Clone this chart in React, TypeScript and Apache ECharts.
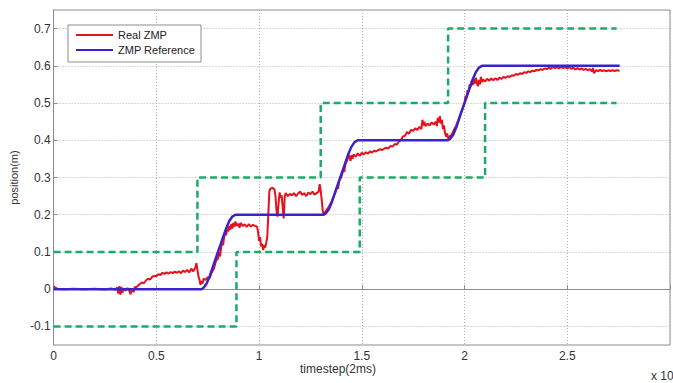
import React, { useEffect, useRef } from "react";
import * as echarts from "echarts";

const xTicks = [0, 0.5, 1, 1.5, 2, 2.5, 3];
const yTicks = [-0.1, 0, 0.1, 0.2, 0.3, 0.4, 0.5, 0.6, 0.7];

const upperBound: number[][] = [
  [0, 0.1], [0.7, 0.1], [0.7, 0.3], [1.3, 0.3], [1.3, 0.5], [1.92, 0.5], [1.92, 0.7], [2.74, 0.7],
];
const lowerBound: number[][] = [
  [0, -0.1], [0.89, -0.1], [0.89, 0.1], [1.49, 0.1], [1.49, 0.3], [2.1, 0.3], [2.1, 0.5], [2.74, 0.5],
];

const zmpReference: number[][] = [
  [0, 0], [0.72, 0], [0.73, 0.004], [0.745, 0.015], [0.76, 0.035], [0.78, 0.068], [0.8, 0.1],
  [0.82, 0.132], [0.84, 0.163], [0.855, 0.183], [0.87, 0.195], [0.885, 0.2],
  [1.315, 0.2], [1.325, 0.204], [1.34, 0.215], [1.355, 0.235], [1.375, 0.268], [1.395, 0.3],
  [1.415, 0.332], [1.435, 0.364], [1.45, 0.383], [1.465, 0.395], [1.48, 0.4],
  [1.92, 0.4], [1.93, 0.404], [1.945, 0.415], [1.96, 0.435], [1.98, 0.468], [2.0, 0.5],
  [2.02, 0.532], [2.04, 0.564], [2.055, 0.583], [2.07, 0.595], [2.085, 0.6], [2.755, 0.6],
];

const realZmp: number[][] = [
  [0, 0.008], [0.01, 0.003], [0.02, 0.001], [0.05, 0], [0.1, 0.001], [0.15, 0], [0.2, 0.001],
  [0.25, -0.001], [0.28, 0.002], [0.3, -0.002],
  [0.31, 0.005], [0.315, -0.012], [0.32, 0.008], [0.325, -0.015], [0.33, 0.006], [0.335, -0.01],
  [0.34, 0.002], [0.35, -0.004], [0.36, 0.003], [0.37, -0.006], [0.375, -0.014], [0.38, 0.002],
  [0.39, -0.008], [0.395, 0.006],
  [0.4, 0.004], [0.41, 0.009], [0.42, 0.014], [0.43, 0.018], [0.44, 0.016], [0.45, 0.024],
  [0.46, 0.028], [0.47, 0.026], [0.48, 0.033], [0.49, 0.036], [0.5, 0.035], [0.51, 0.04],
  [0.52, 0.038], [0.53, 0.044], [0.54, 0.041], [0.55, 0.045], [0.56, 0.042], [0.57, 0.046],
  [0.58, 0.043], [0.59, 0.047], [0.6, 0.044], [0.61, 0.048], [0.62, 0.043], [0.63, 0.05],
  [0.64, 0.046], [0.65, 0.052], [0.66, 0.045], [0.67, 0.055], [0.68, 0.048], [0.69, 0.058],
  [0.695, 0.07], [0.7, 0.052], [0.705, 0.035], [0.71, 0.025], [0.715, 0.012], [0.72, 0.022],
  [0.725, 0.015], [0.73, 0.028], [0.74, 0.025], [0.75, 0.032], [0.76, 0.03],
  [0.77, 0.045], [0.78, 0.055], [0.79, 0.075], [0.8, 0.082], [0.805, 0.1], [0.81, 0.088],
  [0.815, 0.11], [0.82, 0.125], [0.825, 0.118], [0.83, 0.14], [0.835, 0.15], [0.84, 0.145],
  [0.845, 0.162], [0.85, 0.155], [0.855, 0.17], [0.86, 0.16], [0.865, 0.175], [0.87, 0.163],
  [0.875, 0.178], [0.88, 0.168], [0.885, 0.182], [0.89, 0.17], [0.9, 0.176], [0.905, 0.165],
  [0.91, 0.178], [0.92, 0.17], [0.93, 0.174], [0.94, 0.167], [0.95, 0.175], [0.96, 0.168],
  [0.97, 0.173], [0.98, 0.17], [0.99, 0.168], [0.995, 0.155], [1.0, 0.13], [1.005, 0.14],
  [1.01, 0.115], [1.015, 0.122], [1.02, 0.105], [1.025, 0.118], [1.03, 0.112], [1.035, 0.125],
  [1.04, 0.14], [1.045, 0.2], [1.05, 0.262], [1.055, 0.27], [1.065, 0.272], [1.075, 0.268],
  [1.08, 0.25], [1.085, 0.21], [1.09, 0.195], [1.095, 0.23], [1.1, 0.26], [1.105, 0.245],
  [1.11, 0.252], [1.115, 0.22], [1.12, 0.19], [1.125, 0.25], [1.13, 0.258], [1.14, 0.25],
  [1.15, 0.256], [1.16, 0.252], [1.17, 0.258], [1.18, 0.25], [1.19, 0.257], [1.2, 0.262],
  [1.21, 0.253], [1.22, 0.258], [1.23, 0.25], [1.24, 0.26], [1.25, 0.255], [1.26, 0.262],
  [1.27, 0.254], [1.28, 0.258], [1.29, 0.262], [1.295, 0.282], [1.3, 0.265], [1.305, 0.24],
  [1.31, 0.21], [1.315, 0.2], [1.32, 0.205], [1.33, 0.214], [1.34, 0.222], [1.35, 0.232],
  [1.36, 0.245], [1.37, 0.258], [1.38, 0.275], [1.385, 0.27], [1.39, 0.292], [1.4, 0.3],
  [1.41, 0.32], [1.415, 0.315], [1.42, 0.335], [1.43, 0.348], [1.435, 0.362], [1.44, 0.355],
  [1.445, 0.345], [1.45, 0.36], [1.455, 0.35], [1.46, 0.362], [1.47, 0.356], [1.48, 0.365],
  [1.49, 0.358], [1.5, 0.366], [1.51, 0.362], [1.52, 0.368], [1.53, 0.364], [1.54, 0.37],
  [1.55, 0.367], [1.56, 0.372], [1.57, 0.37], [1.58, 0.374], [1.59, 0.376], [1.6, 0.374],
  [1.61, 0.378], [1.62, 0.38], [1.63, 0.378], [1.64, 0.385], [1.65, 0.383], [1.66, 0.39],
  [1.67, 0.388], [1.68, 0.396], [1.69, 0.4], [1.7, 0.41], [1.71, 0.412], [1.72, 0.422],
  [1.73, 0.418], [1.74, 0.428], [1.75, 0.425], [1.76, 0.432], [1.77, 0.428], [1.78, 0.436],
  [1.79, 0.43], [1.795, 0.455], [1.8, 0.44], [1.805, 0.45], [1.81, 0.438], [1.82, 0.445],
  [1.83, 0.44], [1.84, 0.448], [1.85, 0.442], [1.86, 0.45], [1.865, 0.438], [1.87, 0.46],
  [1.875, 0.448], [1.88, 0.465], [1.885, 0.445], [1.89, 0.455], [1.895, 0.43], [1.9, 0.44],
  [1.905, 0.42], [1.91, 0.41], [1.915, 0.418], [1.92, 0.405], [1.925, 0.412], [1.93, 0.408],
  [1.94, 0.418], [1.95, 0.43], [1.96, 0.44], [1.97, 0.455], [1.98, 0.47], [1.99, 0.485],
  [2.0, 0.5], [2.005, 0.52], [2.01, 0.515], [2.015, 0.535], [2.02, 0.53], [2.025, 0.55],
  [2.03, 0.545], [2.035, 0.56], [2.04, 0.548], [2.045, 0.565], [2.05, 0.552], [2.055, 0.568],
  [2.06, 0.555], [2.065, 0.545], [2.07, 0.562], [2.075, 0.55], [2.08, 0.57], [2.085, 0.556],
  [2.09, 0.563], [2.1, 0.558], [2.11, 0.565], [2.12, 0.56], [2.13, 0.566], [2.14, 0.561],
  [2.15, 0.567], [2.16, 0.562], [2.17, 0.568], [2.18, 0.565], [2.19, 0.57], [2.2, 0.568],
  [2.21, 0.572], [2.22, 0.57], [2.23, 0.575], [2.24, 0.573], [2.25, 0.578], [2.26, 0.576],
  [2.27, 0.58], [2.28, 0.578], [2.29, 0.583], [2.3, 0.581], [2.31, 0.585], [2.32, 0.583],
  [2.33, 0.587], [2.34, 0.585], [2.35, 0.589], [2.36, 0.588], [2.37, 0.591], [2.38, 0.589],
  [2.39, 0.593], [2.4, 0.591], [2.41, 0.595], [2.42, 0.592], [2.43, 0.597], [2.44, 0.594],
  [2.45, 0.596], [2.46, 0.593], [2.47, 0.597], [2.48, 0.594], [2.49, 0.596], [2.5, 0.593],
  [2.51, 0.597], [2.52, 0.592], [2.53, 0.595], [2.54, 0.59], [2.55, 0.594], [2.56, 0.59],
  [2.57, 0.593], [2.58, 0.589], [2.59, 0.592], [2.6, 0.588], [2.61, 0.591], [2.62, 0.585],
  [2.625, 0.594], [2.63, 0.58], [2.64, 0.588], [2.65, 0.586], [2.66, 0.589], [2.67, 0.586],
  [2.68, 0.588], [2.69, 0.585], [2.7, 0.588], [2.71, 0.586], [2.72, 0.588], [2.73, 0.586],
  [2.74, 0.588], [2.755, 0.587],
];

const FONT = "'Liberation Sans', Arial, sans-serif";
const GRID_COLOR = "#b0b0b0";
const AXIS_COLOR = "#8c8c8c";
const TEXT_COLOR = "#333333";
const GREEN = "#1aab68";
const RED = "#e8101a";
const BLUE = "#3a22cc";

export default function App() {
  const ref = useRef<HTMLDivElement>(null);
  useEffect(() => {
    document.body.style.margin = "0";
    if (!ref.current) return;
    const chart = echarts.init(ref.current, null, { renderer: "svg" });
    chart.setOption({
      animation: false,
      backgroundColor: "#ffffff",
      grid: {
        left: 52,
        top: 10,
        right: -4,
        bottom: 38,
        show: true,
        borderColor: AXIS_COLOR,
        borderWidth: 1,
        backgroundColor: "#ffffff",
      },
      legend: {
        data: ["Real ZMP", "ZMP Reference"],
        orient: "vertical",
        left: 68,
        top: 25,
        itemWidth: 37,
        itemHeight: 12,
        itemGap: 3,
        padding: [4, 6, 6, 7],
        backgroundColor: "#ffffff",
        borderColor: AXIS_COLOR,
        borderWidth: 1,
        borderRadius: 0,
        itemStyle: { opacity: 0 },
        lineStyle: { width: 2 },
        textStyle: { fontFamily: FONT, fontSize: 11, color: "#222222", lineHeight: 12 },
      },
      xAxis: {
        type: "value",
        min: xTicks[0],
        max: xTicks[xTicks.length - 1],
        interval: 0.5,
        axisLine: { show: true, lineStyle: { color: AXIS_COLOR } },
        axisTick: { show: true, inside: true, length: 4, lineStyle: { color: AXIS_COLOR } },
        axisLabel: {
          fontFamily: FONT,
          fontSize: 12,
          color: TEXT_COLOR,
          margin: 5,
          formatter: (v: number) => (v === 3 ? "" : String(v)),
        },
        splitLine: { show: true, lineStyle: { color: GRID_COLOR, type: [1, 2], width: 1 } },
      },
      yAxis: {
        type: "value",
        min: -0.15,
        max: 0.75,
        name: "position(m)",
        nameLocation: "middle",
        nameGap: 34,
        nameTextStyle: { fontFamily: FONT, fontSize: 11, color: TEXT_COLOR },
        axisLine: { show: true, lineStyle: { color: AXIS_COLOR } },
        axisTick: {
          show: true,
          inside: true,
          length: 4,
          customValues: yTicks,
          lineStyle: { color: AXIS_COLOR },
        },
        axisLabel: {
          fontFamily: FONT,
          fontSize: 12,
          color: TEXT_COLOR,
          margin: 3,
          customValues: yTicks,
          formatter: (v: number) => String(Math.round(v * 10) / 10),
        },
        splitLine: { show: true, lineStyle: { color: GRID_COLOR, type: [1, 2], width: 1 } },
      },
      graphic: [
        {
          type: "text",
          left: 300,
          top: 363,
          style: { text: "timestep(2ms)", fontFamily: FONT, fontSize: 12, fill: TEXT_COLOR },
        },
        {
          type: "text",
          left: 651,
          top: 370,
          style: { text: "x 10", fontFamily: FONT, fontSize: 12, fill: TEXT_COLOR },
        },
      ],
      series: [
        {
          name: "Real ZMP",
          type: "line",
          data: realZmp,
          symbol: "none",
          lineStyle: { color: RED, width: 2 },
          itemStyle: { color: RED },
          z: 3,
        },
        {
          name: "ZMP Reference",
          type: "line",
          data: zmpReference,
          symbol: "none",
          lineStyle: { color: BLUE, width: 2.5 },
          itemStyle: { color: BLUE },
          z: 4,
        },
        {
          name: "Upper bound",
          type: "line",
          data: upperBound,
          symbol: "none",
          lineStyle: { color: GREEN, width: 2.5, type: [7, 4] },
          itemStyle: { color: GREEN },
          z: 2,
        },
        {
          name: "Lower bound",
          type: "line",
          data: lowerBound,
          symbol: "none",
          lineStyle: { color: GREEN, width: 2.5, type: [7, 4] },
          itemStyle: { color: GREEN },
          z: 2,
        },
      ],
    });
    return () => chart.dispose();
  }, []);
  return <div ref={ref} style={{ width: 673, height: 383 }} />;
}
